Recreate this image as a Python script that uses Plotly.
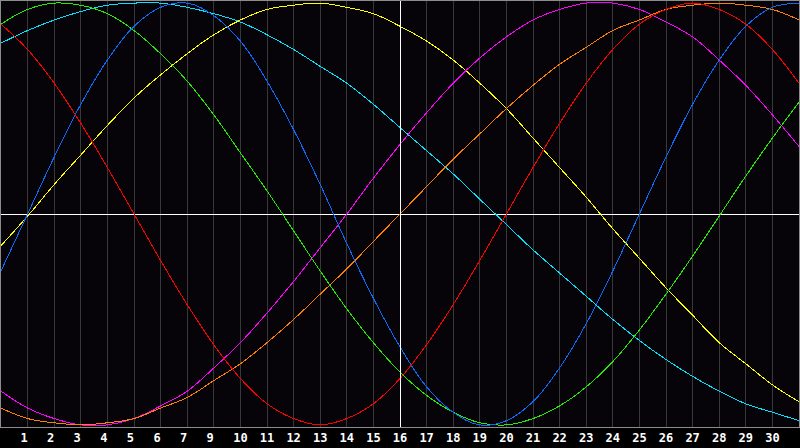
import plotly.graph_objects as go

days = list(range(0, 31))
tick_positions = list(range(1, 30))
tick_labels = ["1", "2", "3", "4", "5", "6", "7", "9", "10", "11", "12", "13", "14", "15",
               "16", "17", "18", "19", "20", "21", "22", "23", "24", "25", "26", "27", "28",
               "29", "30"]
today_position = 15

red = [90, 78, 62, 43, 22, 0, -22, -43, -62, -78, -90, -97, -100, -97, -90, -78, -62, -43,
       -22, 0, 22, 43, 62, 78, 90, 97, 100, 97, 90, 78, 62]
green = [90, 97, 100, 99, 95, 87, 76, 63, 47, 29, 11, -8, -27, -45, -61, -75, -86, -94, -99,
         -100, -97, -91, -82, -70, -55, -38, -20, -1, 18, 36, 53]
blue = [-27, 0, 27, 52, 73, 89, 98, 100, 94, 82, 63, 40, 14, -14, -40, -63, -82, -94, -100,
        -98, -89, -73, -52, -27, 0, 27, 52, 73, 89, 98, 100]
cyan = [81, 87, 92, 96, 99, 100, 100, 98, 95, 91, 85, 78, 70, 62, 52, 41, 30, 19, 7, -5, -17,
        -28, -39, -50, -60, -69, -77, -84, -90, -94, -98]
yellow = [-15, -1, 14, 28, 42, 55, 66, 76, 85, 92, 97, 99, 100, 98, 95, 89, 82, 73, 62, 50, 36,
          22, 8, -7, -21, -35, -48, -61, -71, -81, -89]
magenta = [-84, -92, -97, -100, -100, -97, -91, -84, -73, -61, -47, -32, -16, 0, 17, 33, 48,
           62, 74, 84, 92, 97, 100, 100, 97, 91, 84, 73, 61, 47, 32]
orange = [-92, -97, -99, -100, -99, -97, -92, -87, -79, -71, -61, -50, -38, -26, -13, 0, 13,
          26, 38, 50, 61, 71, 79, 87, 92, 97, 99, 100, 99, 97, 92]

series = [
    ("cyan", cyan, "#00e4ff"),
    ("yellow", yellow, "#ffff00"),
    ("magenta", magenta, "#ff00ff"),
    ("orange", orange, "#ff8000"),
    ("green", green, "#22ee00"),
    ("blue", blue, "#0a6cff"),
    ("red", red, "#ff0000"),
]

fig = go.Figure()
for name, vals, col in series:
    fig.add_trace(go.Scatter(x=days, y=vals, mode="lines", name=name,
                             line=dict(color=col, width=1, shape="spline", smoothing=1.1)))

fig.add_vline(x=today_position, line_color="#ffffff", line_width=1, layer="above")

fig.update_layout(
    width=800, height=448,
    margin=dict(l=1, r=1, t=1, b=21, autoexpand=False),
    paper_bgcolor="#000000",
    plot_bgcolor="#060409",
    showlegend=False,
    xaxis=dict(range=[0, 30], tickvals=tick_positions,
               ticktext=[t + "\u00a0" if len(t) == 1 else t for t in tick_labels],
               showgrid=True, gridcolor="#383838", gridwidth=1,
               zeroline=False, showline=True, linecolor="#8c8c8c", linewidth=1, mirror=True,
               ticks="", tickfont=dict(family="DejaVu Sans Mono", size=12, color="#ffffff",
                                       weight="bold"),
               fixedrange=True),
    yaxis=dict(range=[-101, 101], showgrid=False, zeroline=True, zerolinecolor="#ffffff",
               zerolinewidth=1, showticklabels=False, ticks="",
               showline=True, linecolor="#8c8c8c", linewidth=1, mirror=True,
               fixedrange=True),
)

post = (
    "document.documentElement.style.margin='0';document.body.style.margin='0';"
    "document.body.style.padding='0';document.body.style.overflow='hidden';"
    "document.body.style.background='#000';"
    "var st=document.createElement('style');"
    "st.textContent='.scatterlayer path.js-line{shape-rendering:crispEdges;}"
    ".shapelayer path{shape-rendering:crispEdges;}';"
    "document.head.appendChild(st);"
)

fig.write_html("out.html", config={"displayModeBar": False}, post_script=post)
